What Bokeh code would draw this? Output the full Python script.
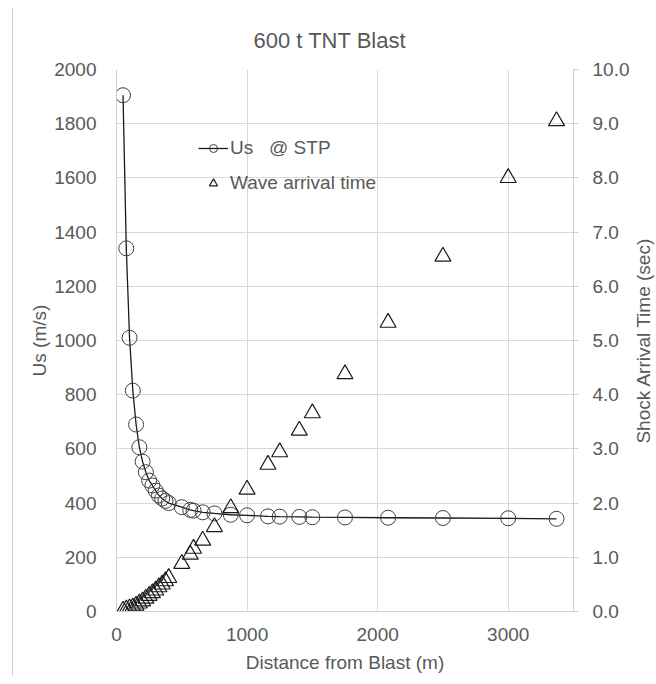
import math
from bokeh.plotting import figure
from bokeh.models import (Range1d, LinearAxis, SingleIntervalTicker, NumeralTickFormatter,
                          Legend, LegendItem, Label)
from bokeh.embed import file_html
from bokeh.resources import INLINE

# ---- data ----
distance_m = [50, 75, 100, 125, 150, 175, 200, 225, 250, 275, 300, 325, 350, 375, 400,
              500, 565, 590, 660, 750, 875, 1000, 1160, 1250, 1400, 1500, 1750, 2080,
              2500, 3000, 3370]
us_stp = [1905, 1340, 1010, 815, 690, 606, 553, 514, 483, 465, 446, 428, 417, 408, 400,
          385, 375, 372, 366, 362, 357, 355, 351, 350, 349, 348, 347, 346, 345, 344, 342]
arrival_time_s = [0.02, 0.04, 0.06, 0.08, 0.11, 0.15, 0.19, 0.24, 0.29, 0.34, 0.39, 0.45,
                  0.50, 0.56, 0.62, 0.88, 1.05, 1.16, 1.31, 1.56, 1.91, 2.25, 2.71, 2.94,
                  3.34, 3.66, 4.38, 5.33, 6.55, 8.00, 9.05]

title_text = "600 t TNT Blast"
x_label = "Distance from Blast (m)"
y_label = "Us (m/s)"
y2_label = "Shock Arrival Time (sec)"
series_us = "Us   @ STP"
series_t = "Wave arrival time"

FONT = "Liberation Sans"
TXT = "#595959"
GRID = "#d9d9d9"
AXL = "#d0d0d0"

p = figure(frame_width=457, frame_height=542,
           min_border_left=103, min_border_right=82, min_border_top=61, min_border_bottom=65,
           x_range=Range1d(0, 3500), y_range=Range1d(0, 2000),
           output_backend="svg", toolbar_location=None,
           background_fill_color="white", border_fill_color="white")
p.styles = {"margin-left": "12px", "margin-top": "8px", "border-left": "1px solid #d0d0d0"}
p.outline_line_color = None

p.title.text = title_text
p.title.text_font = FONT
p.title.text_font_size = "22px"
p.title.text_font_style = "normal"
p.title.text_color = TXT
p.title.align = "left"
p.title.offset = 137
p.title.standoff = 34

p.extra_y_ranges = {"t": Range1d(0, 10)}

# axes
xa = p.xaxis[0]
xa.ticker = SingleIntervalTicker(interval=1000)
ya = p.yaxis[0]
ya.ticker = SingleIntervalTicker(interval=200)
ya2 = LinearAxis(y_range_name="t", ticker=SingleIntervalTicker(interval=1),
                 formatter=NumeralTickFormatter(format="0.0"))
p.add_layout(ya2, "right")

for ax, lab in ((xa, x_label), (ya, y_label)):
    ax.axis_label = lab
    ax.axis_label_text_font = FONT
    ax.axis_label_text_font_size = "19px"
    ax.axis_label_text_font_style = "normal"
    ax.axis_label_text_color = TXT

for ax in (xa, ya, ya2):
    ax.major_label_text_font = FONT
    ax.major_label_text_font_size = "19px"
    ax.major_label_text_color = TXT
    ax.axis_line_color = AXL
    ax.minor_tick_line_color = None
    ax.major_tick_in = 0
    ax.major_tick_out = 0
    ax.major_tick_line_color = AXL

xa.major_label_standoff = 12
xa.axis_label_standoff = 8
ya.major_label_standoff = 16
ya.axis_label_standoff = 1
ya2.major_tick_out = 5
ya2.major_label_standoff = 14

# secondary axis title, reading bottom-to-top as in the reference (side panel, not clipped)
p.add_layout(Label(x=11, y=271, x_units="screen", y_units="screen", text=y2_label,
                   angle=math.pi / 2, text_align="center", text_baseline="middle",
                   text_font=FONT, text_font_size="19px", text_color=TXT), "right")

p.xgrid.grid_line_color = GRID
p.ygrid.grid_line_color = GRID
p.xgrid.ticker = SingleIntervalTicker(interval=1000)
p.ygrid.ticker = SingleIntervalTicker(interval=200)

# series
ln = p.line(distance_m, us_stp, line_color="#1a1a1a", line_width=1.3)
cr = p.scatter(distance_m, us_stp, marker="circle", size=15, fill_color=None,
               line_color="#404040", line_width=1)
tr = p.scatter(distance_m, arrival_time_s, marker="triangle", size=16, fill_color=None,
               line_color="#1a1a1a", line_width=1.2, y_range_name="t")

legend = Legend(items=[LegendItem(label=series_us, renderers=[ln, cr]),
                       LegendItem(label=series_t, renderers=[tr])],
                location=(82, 417), orientation="vertical",
                background_fill_alpha=0, border_line_color=None,
                padding=0, margin=0, spacing=13,
                glyph_width=30, glyph_height=20, label_height=20, label_standoff=2,
                label_text_font=FONT, label_text_font_size="19px", label_text_color=TXT)
p.add_layout(legend)

open("out.html", "w").write(file_html(p, INLINE))
